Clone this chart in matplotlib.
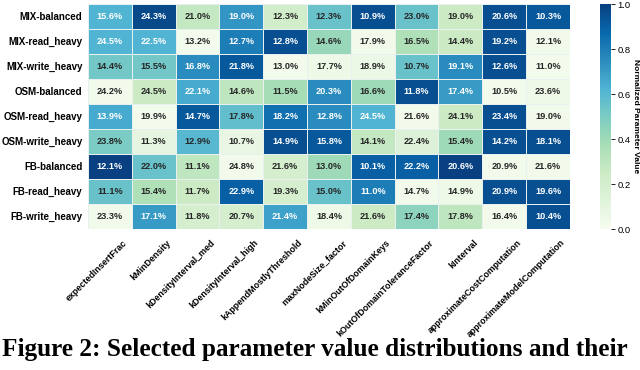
import numpy as np
import matplotlib
matplotlib.use("Agg")
import matplotlib.pyplot as plt
import matplotlib.transforms as mtransforms
import seaborn as sns

rows = ["MIX-balanced", "MIX-read_heavy", "MIX-write_heavy",
        "OSM-balanced", "OSM-read_heavy", "OSM-write_heavy",
        "FB-balanced", "FB-read_heavy", "FB-write_heavy"]
params = ["expectedInsertFrac", "kMinDensity", "kDensityInterval_med",
          "kDensityInterval_high", "kAppendMostlyThreshold", "maxNodeSize_factor",
          "kMinOutOfDomainKeys", "kOutOfDomainToleranceFactor", "kInterval",
          "approximateCostComputation", "approximateModelComputation"]

# percentages shown in the cells
pct = [
    [15.6, 24.3, 21.0, 19.0, 12.3, 12.3, 10.9, 23.0, 19.0, 20.6, 10.3],
    [24.5, 22.5, 13.2, 12.7, 12.8, 14.6, 17.9, 16.5, 14.4, 19.2, 12.1],
    [14.4, 15.5, 16.8, 21.8, 13.0, 17.7, 18.9, 10.7, 19.1, 12.6, 11.0],
    [24.2, 24.5, 22.1, 14.6, 11.5, 20.3, 16.6, 11.8, 17.4, 10.5, 23.6],
    [13.9, 19.9, 14.7, 17.8, 18.2, 12.8, 24.5, 21.6, 24.1, 23.4, 19.0],
    [23.8, 11.3, 12.9, 10.7, 14.9, 15.8, 14.1, 22.4, 15.4, 14.2, 18.1],
    [12.1, 22.0, 11.1, 24.8, 21.6, 13.0, 10.1, 22.2, 20.6, 20.9, 21.6],
    [11.1, 15.4, 11.7, 22.9, 19.3, 15.0, 11.0, 14.7, 14.9, 20.9, 19.6],
    [23.3, 17.1, 11.8, 20.7, 21.4, 18.4, 21.6, 17.4, 17.8, 16.4, 10.4],
]

# normalized parameter value (cell colour)
norm = [
    [0.62, 0.97, 0.28, 0.72, 0.22, 0.55, 0.95, 0.55, 0.25, 0.95, 0.92],
    [0.62, 0.62, 0.02, 0.80, 0.95, 0.42, 0.03, 0.35, 0.25, 0.95, 0.03],
    [0.52, 0.52, 0.75, 0.92, 0.02, 0.05, 0.06, 0.55, 0.75, 0.95, 0.02],
    [0.03, 0.25, 0.65, 0.30, 0.38, 0.75, 0.40, 0.95, 0.70, 0.02, 0.05],
    [0.65, 0.02, 0.92, 0.57, 0.85, 0.75, 0.62, 0.03, 0.25, 0.95, 0.03],
    [0.50, 0.10, 0.60, 0.08, 0.95, 0.92, 0.28, 0.15, 0.40, 0.95, 0.95],
    [1.00, 0.55, 0.30, 0.03, 0.20, 0.40, 0.90, 0.90, 1.00, 0.03, 0.03],
    [0.55, 0.35, 0.25, 0.90, 0.20, 0.55, 0.80, 0.03, 0.05, 0.95, 0.95],
    [0.03, 0.70, 0.20, 0.20, 0.68, 0.05, 0.25, 0.45, 0.30, 0.03, 0.95],
]

labels = np.array([["%.1f%%" % v for v in r] for r in pct])

fig = plt.figure(figsize=(6.4, 3.7), dpi=100)
ax = fig.add_axes([0.1375, 0.381, 0.753, 0.608])
cax = fig.add_axes([0.9375, 0.381, 0.017, 0.608])

sns.heatmap(np.array(norm), ax=ax, cbar_ax=cax, cmap="GnBu", vmin=0, vmax=1,
            annot=labels, fmt="", linewidths=0.4, linecolor="#e8f0f0",
            annot_kws={"fontsize": 6.6, "fontweight": "bold", "family": "Liberation Sans"},
            xticklabels=params, yticklabels=rows)

ax.tick_params(length=0, pad=4)
ax.tick_params(axis="x", pad=6.5)
for t in ax.get_yticklabels():
    t.set_fontsize(7)
    t.set_fontweight("bold")
    t.set_family("Liberation Sans")
    t.set_rotation(0)
# labels sit a bit right of the cell centres, like in the original
shift = mtransforms.ScaledTranslation(0.19, 0, fig.dpi_scale_trans)
for t in ax.get_xticklabels():
    t.set_fontsize(6.4)
    t.set_fontweight("bold")
    t.set_family("Liberation Sans")
    t.set_rotation(45)
    t.set_ha("right")
    t.set_va("top")
    t.set_transform(t.get_transform() + shift)

cax.tick_params(labelsize=6.8, length=3, width=0.6, pad=1.5)
cax.set_yticks([0, 0.2, 0.4, 0.6, 0.8, 1.0])
cax.set_yticklabels(["0.0", "0.2", "0.4", "0.6", "0.8", "1.0"])
for t in cax.get_yticklabels():
    t.set_family("Liberation Sans")
cax.set_ylabel("Normalized Parameter Value", rotation=270, labelpad=6,
               fontsize=6, fontweight="bold", family="Liberation Sans")

fig.text(0.003, 0.038, "Figure 2: Selected parameter value distributions and their",
         fontsize=18.2, fontweight="bold", family="Liberation Serif", ha="left", va="baseline")

fig.savefig("out.png", dpi=100)
